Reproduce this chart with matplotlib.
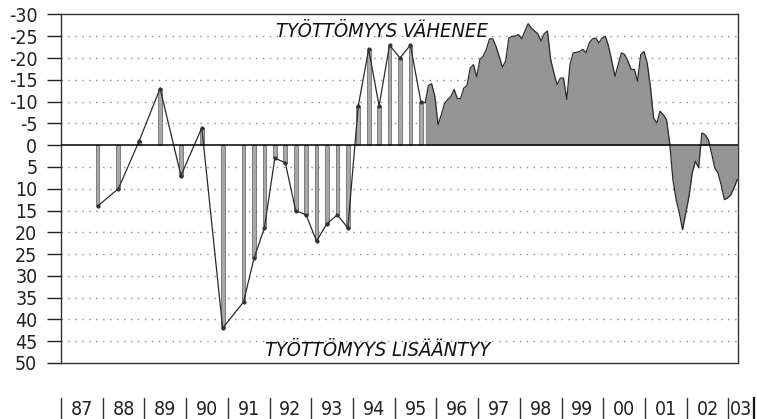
import numpy as np
import matplotlib
matplotlib.use("Agg")
import matplotlib.pyplot as plt
from matplotlib.lines import Line2D

# ---- data ----
# sparse period (semi-annual, then quarterly observations), decimal years
t_sparse = [1987.875, 1988.375, 1988.875, 1989.375, 1989.875, 1990.375, 1990.875,
            1991.375, 1991.625, 1991.875, 1992.125, 1992.375, 1992.625, 1992.875,
            1993.125, 1993.375, 1993.625, 1993.875, 1994.125, 1994.375, 1994.625,
            1994.875, 1995.125, 1995.375, 1995.625]
v_sparse = [14, 10, -1, -13, 7, -4, 42,
            36, 26, 19, 3, 4, 15, 16,
            22, 18, 16, 19, -9, -22, -9,
            -23, -20, -23, -10]

# dense period (monthly), Oct 1995 .. Mar 2003
dense_start, dense_end = 1995.73, 2003.21
v_dense = [-9.7, -13.7, -14.1, -11.2, -4.7, -7.0, -9.5, -10.5, -11.2, -12.8,
           -10.7, -10.7, -13.1, -13.7, -17.7, -18.5, -15.7, -19.7, -20.4, -22.0,
           -24.4, -24.4, -22.7, -20.4, -17.9, -19.3, -24.6, -25.0, -25.0, -25.4,
           -24.4, -26.2, -27.9, -26.9, -26.2, -25.6, -23.9, -25.6, -26.2, -19.7,
           -16.6, -13.9, -15.4, -15.4, -10.5, -18.5, -21.2, -21.3, -21.5, -22.0,
           -21.2, -23.5, -24.4, -24.6, -23.5, -24.6, -25.0, -22.7, -19.3, -15.8,
           -18.5, -21.2, -20.8, -19.3, -17.4, -17.4, -14.7, -20.8, -21.5, -18.9,
           -13.5, -6.2, -5.1, -7.8, -7.0, -5.9, -0.5, 7.9, 12.5, 15.6,
           19.4, 15.6, 11.8, 6.4, 3.7, 5.2, -2.8, -2.4, -1.3, 1.8,
           5.2, 6.4, 9.1, 12.5, 12.1, 11.4, 9.8, 7.9]
t_dense = np.linspace(dense_start, dense_end, len(v_dense))

year_labels = ["87", "88", "89", "90", "91", "92", "93", "94", "95",
               "96", "97", "98", "99", "00", "01", "02", "03"]
first_year = 1987
y_ticks = [-30, -25, -20, -15, -10, -5, 0, 5, 10, 15, 20, 25, 30, 35, 40, 45, 50]
label_top = "TYÖTTÖMYYS VÄHENEE"
label_bottom = "TYÖTTÖMYYS LISÄÄNTYY"

# ---- style ----
plt.rcParams['font.family'] = ['DejaVu Sans']
plt.rcParams['font.stretch'] = 'condensed'

fig = plt.figure(figsize=(7.57, 4.19), dpi=100)
ax = fig.add_axes([0.0806, 0.1337, 0.8944, 0.8317])

ax.set_xlim(1987.0, 2003.23)
ax.set_ylim(50, -30)

# grid
for y in y_ticks:
    if y in (0, -30, 50):
        continue
    ax.axhline(y, color='#8a8a8a', lw=1.0, ls=(0, (1, 4)), zorder=0)

# dense fill
ax.fill_between(t_dense, 0, v_dense, color='#959595', lw=0, zorder=1)
# sparse bars
ax.bar(t_sparse, v_sparse, width=0.09, color='#a8a8a8', edgecolor='#6e6e6e',
       lw=0.6, zorder=2)

# line through all points
t_all = list(t_sparse) + list(t_dense)
v_all = list(v_sparse) + list(v_dense)
ax.plot(t_all, v_all, color='#2a2a2a', lw=0.9, zorder=3)
ax.plot(t_sparse, v_sparse, ls='none', marker='o', ms=2, color='#333333', zorder=4)

ax.axhline(0, color='black', lw=1.1, zorder=5)

# axes frame
for s in ax.spines.values():
    s.set_color('#333333')
    s.set_linewidth(1.0)

ax.set_yticks(y_ticks)
ax.set_yticklabels([str(v) for v in y_ticks])
ax.tick_params(axis='y', length=10, width=1.0, pad=7, labelsize=14, colors='#222222')
ax.set_xticks([])

# annotations
ax.text(1994.7, -26.2, label_top, ha='center', va='center', style='italic',
        fontsize=14.5, color='#111111')
ax.text(1994.58, 47.2, label_bottom, ha='center', va='center', style='italic',
        fontsize=14.5, color='#111111')

# year labels below plot with separators
trans = ax.get_xaxis_transform()
y_lab = (0.0215 - 0.1337) / 0.8317
y_sep0 = ((419 - 398) / 419 - 0.1337) / 0.8317
y_sep1 = (0.0 - 0.1337) / 0.8317
for i, lab in enumerate(year_labels):
    x0 = first_year + i
    if lab == "03":
        xc = x0 + 0.3
    else:
        xc = x0 + 0.5
    ax.text(xc, y_lab, lab, transform=trans, ha='center', va='center',
            fontsize=14, color='#222222', clip_on=False)
    ax.add_line(Line2D([x0, x0], [y_sep0, y_sep1], transform=trans, color='#333333',
                       lw=1.0, clip_on=False))
x_end = first_year + len(year_labels) - 0.4
ax.add_line(Line2D([x_end, x_end], [y_sep0, y_sep1], transform=trans, color='#111111',
                   lw=1.6, clip_on=False))

fig.savefig('out.png', dpi=100)
